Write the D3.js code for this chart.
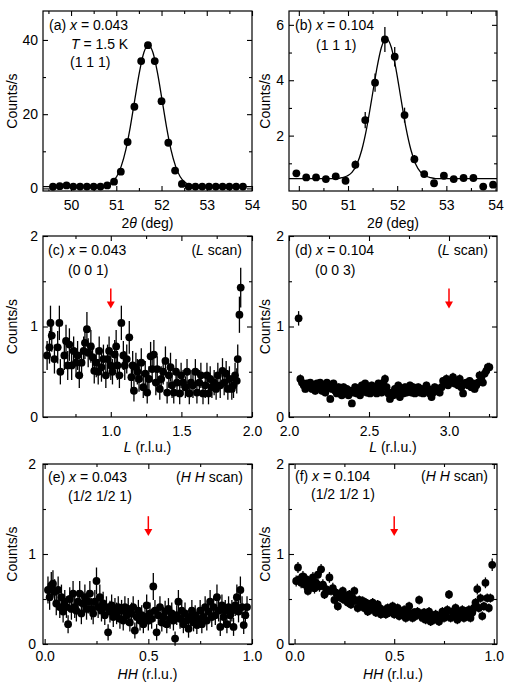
<html>
  <head>
    <meta charset="utf-8" />
    <script src="https://d3js.org/d3.v7.min.js"></script>
    <style>
      body { margin: 0; background: #fff; }
      text { font-family: "Liberation Sans", Arial, sans-serif; fill: #000; }
    </style>
  </head>
  <body>
    <div id="vis"></div>
    <script>
      // ---------------- data ----------------
      // (a) x = 0.043, (1 1 1) peak, 2theta scan
      var aTheta = [49.6, 49.75, 49.9, 50.05, 50.2, 50.35, 50.5, 50.65, 50.8, 50.95, 51.1, 51.25, 51.4, 51.55, 51.7,
        51.85, 52.0, 52.15, 52.3, 52.45, 52.6, 52.75, 52.9, 53.05, 53.2, 53.35, 53.5, 53.65, 53.8];
      var aCounts = [0.45, 0.6, 0.8, 0.5, 0.5, 0.5, 0.5, 0.5, 0.8, 1.8, 4.5, 12.5, 22, 34.3, 38.6,
        34.3, 23.5, 12.3, 4.8, 1.2, 0.5, 0.5, 0.5, 0.5, 0.5, 0.5, 0.5, 0.5, 0.5];
      var aFitTheta = [49.38, 50.5, 50.71, 50.81, 50.91, 51.01, 51.11, 51.21, 51.31, 51.41, 51.51, 51.61, 51.71,
        51.81, 51.91, 52.01, 52.11, 52.21, 52.31, 52.41, 52.51, 52.61, 52.71, 52.91, 54.0];
      var aFitCounts = [0.5, 0.5, 0.68, 1.0, 1.7, 3.2, 6.0, 10.4, 16.6, 24.0, 31.2, 36.6, 38.6,
        36.6, 31.2, 24.0, 16.6, 10.4, 6.0, 3.2, 1.7, 1.0, 0.68, 0.5, 0.5];

      // (b) x = 0.104, (1 1 1) peak
      var bTheta = [49.95, 50.15, 50.35, 50.55, 50.75, 50.95, 51.15, 51.35, 51.55, 51.75, 51.95,
        52.15, 52.35, 52.55, 52.75, 52.95, 53.15, 53.35, 53.55, 53.75, 53.95];
      var bCounts = [0.64, 0.49, 0.49, 0.43, 0.53, 0.37, 0.95, 2.56, 3.91, 5.47, 4.85,
        2.74, 1.15, 0.61, 0.28, 0.55, 0.43, 0.47, 0.47, 0.16, 0.23];
      var bErr = [0.08, 0.08, 0.08, 0.07, 0.08, 0.07, 0.15, 0.29, 0.33, 0.45, 0.35,
        0.27, 0.15, 0.08, 0.06, 0.08, 0.07, 0.07, 0.07, 0.05, 0.06];
      var bFitTheta = [49.8, 50.78, 50.88, 50.98, 51.08, 51.18, 51.28, 51.38, 51.48, 51.58, 51.68, 51.78,
        51.88, 51.98, 52.08, 52.18, 52.28, 52.38, 52.48, 52.58, 52.68, 52.78, 54.03];
      var bFitCounts = [0.45, 0.45, 0.48, 0.54, 0.67, 0.96, 1.48, 2.27, 3.3, 4.36, 5.19, 5.5,
        5.19, 4.36, 3.3, 2.27, 1.48, 0.96, 0.67, 0.54, 0.48, 0.45, 0.45];

      // (c) x = 0.043, L scan through (0 0 1)
      var cL = [0.549, 0.566, 0.573, 0.582, 0.601, 0.624, 0.636, 0.643, 0.671, 0.683,
        0.695, 0.707, 0.723, 0.737, 0.754, 0.765, 0.777, 0.793, 0.808, 0.817,
        0.831, 0.84, 0.859, 0.871, 0.883, 0.897, 0.911, 0.918, 0.934, 0.948,
        0.965, 0.977, 0.988, 1.0, 1.012, 1.028, 1.038, 1.047, 1.061, 1.075,
        1.089, 1.099, 1.113, 1.131, 1.146, 1.155, 1.164, 1.178, 1.188, 1.2,
        1.216, 1.23, 1.244, 1.258, 1.27, 1.282, 1.293, 1.305, 1.319, 1.329,
        1.347, 1.357, 1.371, 1.387, 1.399, 1.411, 1.423, 1.434, 1.446, 1.462,
        1.469, 1.488, 1.498, 1.512, 1.528, 1.54, 1.556, 1.568, 1.582, 1.599,
        1.61, 1.627, 1.638, 1.653, 1.669, 1.681, 1.692, 1.704, 1.716, 1.732,
        1.746, 1.758, 1.775, 1.791, 1.803, 1.817, 1.829, 1.84, 1.857, 1.869,
        1.88, 1.892, 1.899, 1.911, 1.92];
      var cCounts = [0.68, 0.77, 1.04, 0.9, 0.64, 0.77, 1.04, 0.5, 0.68, 0.84,
        0.57, 0.8, 0.57, 0.73, 0.6, 0.68, 0.46, 0.6, 0.73, 0.82,
        0.97, 0.71, 0.78, 0.66, 0.51, 0.6, 0.5, 0.73, 0.55, 0.64,
        0.46, 0.64, 0.73, 0.57, 0.5, 0.69, 0.78, 0.57, 0.46, 1.04,
        0.68, 0.57, 0.64, 0.88, 0.44, 0.57, 0.29, 0.55, 0.5, 0.42,
        0.6, 0.33, 0.48, 0.27, 0.42, 0.67, 0.53, 0.69, 0.38, 0.53,
        0.31, 0.42, 0.5, 0.62, 0.27, 0.46, 0.55, 0.35, 0.27, 0.5,
        0.38, 0.26, 0.46, 0.38, 0.33, 0.5, 0.26, 0.38, 0.35, 0.5,
        0.27, 0.38, 0.46, 0.26, 0.35, 0.46, 0.26, 0.42, 0.33, 0.38,
        0.31, 0.46, 0.35, 0.51, 0.38, 0.48, 0.31, 0.42, 0.31, 0.35,
        0.46, 0.4, 0.64, 1.13, 1.43];
      var cErr = [0.16, 0.18, 0.19, 0.18, 0.16, 0.18, 0.19, 0.14, 0.16, 0.18,
        0.16, 0.18, 0.16, 0.16, 0.16, 0.16, 0.14, 0.16, 0.16, 0.18,
        0.19, 0.16, 0.18, 0.16, 0.14, 0.16, 0.14, 0.16, 0.16, 0.16,
        0.14, 0.16, 0.16, 0.16, 0.14, 0.16, 0.18, 0.16, 0.14, 0.19,
        0.16, 0.16, 0.16, 0.18, 0.14, 0.16, 0.12, 0.16, 0.14, 0.14,
        0.16, 0.12, 0.14, 0.12, 0.14, 0.16, 0.14, 0.16, 0.14, 0.14,
        0.12, 0.14, 0.14, 0.16, 0.12, 0.14, 0.16, 0.14, 0.12, 0.14,
        0.14, 0.12, 0.14, 0.14, 0.12, 0.14, 0.12, 0.14, 0.14, 0.14,
        0.12, 0.14, 0.14, 0.12, 0.14, 0.14, 0.12, 0.14, 0.12, 0.14,
        0.12, 0.14, 0.14, 0.14, 0.14, 0.14, 0.12, 0.14, 0.12, 0.14,
        0.14, 0.14, 0.16, 0.2, 0.22];

      // (d) x = 0.104, L scan through (0 0 3)
      var dL = [2.06,
        2.071, 2.081, 2.092, 2.102, 2.112, 2.123, 2.133, 2.144, 2.154, 2.164,
        2.175, 2.185, 2.195, 2.206, 2.216, 2.227, 2.237, 2.247, 2.258, 2.268,
        2.278, 2.289, 2.299, 2.31, 2.32, 2.33, 2.341, 2.351, 2.361, 2.372,
        2.382, 2.393, 2.403, 2.413, 2.424, 2.434, 2.444, 2.455, 2.465, 2.476,
        2.486, 2.496, 2.507, 2.517, 2.527, 2.538, 2.548, 2.559, 2.569, 2.579,
        2.59, 2.6, 2.61, 2.621, 2.631, 2.642, 2.652, 2.662, 2.673, 2.683,
        2.693, 2.704, 2.714, 2.725, 2.735, 2.745, 2.756, 2.766, 2.776, 2.787,
        2.797, 2.808, 2.818, 2.828, 2.839, 2.849, 2.859, 2.87, 2.88, 2.891,
        2.901, 2.911, 2.922, 2.932, 2.942, 2.953, 2.963, 2.974, 2.984, 2.994,
        3.005, 3.015, 3.025, 3.036, 3.046, 3.057, 3.067, 3.077, 3.088, 3.098,
        3.108, 3.119, 3.129, 3.14, 3.15, 3.16, 3.171, 3.181, 3.191, 3.202,
        3.212, 3.223, 3.233, 3.243, 3.252];
      var dCounts = [1.09,
        0.42, 0.38, 0.35, 0.31, 0.37, 0.33, 0.38, 0.31, 0.35, 0.29,
        0.37, 0.33, 0.38, 0.29, 0.35, 0.27, 0.38, 0.33, 0.2, 0.31,
        0.37, 0.29, 0.26, 0.33, 0.29, 0.24, 0.33, 0.27, 0.31, 0.24,
        0.29, 0.15, 0.27, 0.33, 0.26, 0.31, 0.24, 0.35, 0.29, 0.37,
        0.27, 0.33, 0.26, 0.35, 0.29, 0.33, 0.26, 0.37, 0.31, 0.27,
        0.38, 0.42, 0.33, 0.26, 0.2, 0.27, 0.24, 0.31, 0.27, 0.35,
        0.22, 0.29, 0.26, 0.33, 0.27, 0.31, 0.35, 0.27, 0.33, 0.26,
        0.29, 0.33, 0.27, 0.31, 0.26, 0.29, 0.35, 0.31, 0.26, 0.22,
        0.27, 0.33, 0.29, 0.31, 0.27, 0.33, 0.4, 0.37, 0.42, 0.35,
        0.4, 0.38, 0.44, 0.37, 0.4, 0.35, 0.42, 0.33, 0.26, 0.37,
        0.38, 0.35, 0.4, 0.33, 0.37, 0.31, 0.35, 0.38, 0.46, 0.42,
        0.38, 0.48, 0.51, 0.55, 0.55];
      var dErr = [0.08,
        0.05, 0.04, 0.04, 0.04, 0.04, 0.04, 0.04, 0.04, 0.04, 0.04,
        0.04, 0.04, 0.04, 0.04, 0.04, 0.04, 0.04, 0.04, 0.04, 0.04,
        0.04, 0.04, 0.04, 0.04, 0.04, 0.04, 0.04, 0.04, 0.04, 0.04,
        0.04, 0.04, 0.04, 0.04, 0.04, 0.04, 0.04, 0.04, 0.04, 0.04,
        0.04, 0.04, 0.04, 0.04, 0.04, 0.04, 0.04, 0.04, 0.04, 0.04,
        0.04, 0.05, 0.04, 0.04, 0.04, 0.04, 0.04, 0.04, 0.04, 0.04,
        0.04, 0.04, 0.04, 0.04, 0.04, 0.04, 0.04, 0.04, 0.04, 0.04,
        0.04, 0.04, 0.04, 0.04, 0.04, 0.04, 0.04, 0.04, 0.04, 0.04,
        0.04, 0.04, 0.04, 0.04, 0.04, 0.04, 0.04, 0.04, 0.05, 0.04,
        0.04, 0.04, 0.05, 0.04, 0.04, 0.04, 0.05, 0.04, 0.04, 0.04,
        0.04, 0.04, 0.04, 0.04, 0.04, 0.04, 0.04, 0.04, 0.05, 0.05,
        0.04, 0.05, 0.05, 0.05, 0.05];

      // (e) x = 0.043, H H scan through (1/2 1/2 1)
      var eHH = [0.016, 0.024, 0.032, 0.04, 0.048, 0.056, 0.065, 0.073, 0.081, 0.089,
        0.097, 0.105, 0.113, 0.121, 0.129, 0.137, 0.145, 0.153, 0.161, 0.169,
        0.177, 0.185, 0.194, 0.202, 0.21, 0.218, 0.226, 0.234, 0.242, 0.25,
        0.258, 0.266, 0.274, 0.282, 0.29, 0.298, 0.306, 0.315, 0.323, 0.331,
        0.339, 0.347, 0.355, 0.363, 0.371, 0.379, 0.387, 0.395, 0.403, 0.411,
        0.419, 0.427, 0.435, 0.444, 0.452, 0.46, 0.468, 0.476, 0.484, 0.492,
        0.5, 0.508, 0.516, 0.524, 0.532, 0.54, 0.548, 0.556, 0.565, 0.573,
        0.581, 0.589, 0.597, 0.605, 0.613, 0.621, 0.629, 0.637, 0.645, 0.653,
        0.661, 0.669, 0.677, 0.685, 0.694, 0.702, 0.71, 0.718, 0.726, 0.734,
        0.742, 0.75, 0.758, 0.766, 0.774, 0.782, 0.79, 0.798, 0.806, 0.815,
        0.823, 0.831, 0.839, 0.847, 0.855, 0.863, 0.871, 0.879, 0.887, 0.895,
        0.903, 0.911, 0.919, 0.927, 0.935, 0.944, 0.952, 0.96, 0.968, 0.976];
      var eCounts = [0.6, 0.52, 0.65, 0.67, 0.58, 0.45, 0.6, 0.41, 0.52, 0.36,
        0.47, 0.41, 0.22, 0.5, 0.39, 0.56, 0.41, 0.37, 0.47, 0.56,
        0.34, 0.45, 0.52, 0.39, 0.47, 0.56, 0.39, 0.34, 0.47, 0.7,
        0.41, 0.52, 0.37, 0.45, 0.32, 0.41, 0.13, 0.36, 0.43, 0.3,
        0.39, 0.34, 0.41, 0.28, 0.37, 0.26, 0.41, 0.32, 0.39, 0.24,
        0.34, 0.41, 0.15, 0.3, 0.37, 0.26, 0.32, 0.22, 0.3, 0.43,
        0.26, 0.34, 0.28, 0.64, 0.37, 0.13, 0.32, 0.41, 0.24, 0.3,
        0.36, 0.22, 0.39, 0.28, 0.34, 0.26, 0.06, 0.32, 0.47, 0.28,
        0.37, 0.22, 0.34, 0.26, 0.17, 0.3, 0.37, 0.24, 0.32, 0.21,
        0.28, 0.37, 0.22, 0.3, 0.41, 0.26, 0.36, 0.47, 0.3, 0.41,
        0.32, 0.52, 0.37, 0.19, 0.43, 0.3, 0.37, 0.22, 0.41, 0.32,
        0.37, 0.19, 0.43, 0.52, 0.36, 0.6, 0.41, 0.21, 0.32, 0.41];
      var eErr = [0.15, 0.14, 0.15, 0.15, 0.14, 0.13, 0.15, 0.12, 0.14, 0.12,
        0.13, 0.12, 0.1, 0.13, 0.12, 0.14, 0.12, 0.12, 0.13, 0.14,
        0.12, 0.13, 0.14, 0.12, 0.13, 0.14, 0.12, 0.12, 0.13, 0.15,
        0.12, 0.14, 0.12, 0.13, 0.11, 0.12, 0.09, 0.12, 0.12, 0.11,
        0.12, 0.12, 0.12, 0.11, 0.12, 0.11, 0.12, 0.11, 0.12, 0.1,
        0.12, 0.12, 0.09, 0.11, 0.12, 0.11, 0.11, 0.1, 0.11, 0.12,
        0.11, 0.12, 0.11, 0.15, 0.12, 0.09, 0.11, 0.12, 0.1, 0.11,
        0.12, 0.1, 0.12, 0.11, 0.12, 0.11, 0.08, 0.11, 0.13, 0.11,
        0.12, 0.1, 0.12, 0.11, 0.1, 0.11, 0.12, 0.1, 0.11, 0.1,
        0.11, 0.12, 0.1, 0.11, 0.12, 0.11, 0.12, 0.13, 0.11, 0.12,
        0.11, 0.14, 0.12, 0.1, 0.12, 0.11, 0.12, 0.1, 0.12, 0.11,
        0.12, 0.1, 0.12, 0.14, 0.12, 0.15, 0.12, 0.1, 0.11, 0.12];

      // (f) x = 0.104, H H scan through (1/2 1/2 1)
      var fHH = [0.008, 0.017, 0.025, 0.033, 0.042, 0.05, 0.058, 0.067, 0.075, 0.083,
        0.092, 0.1, 0.108, 0.117, 0.125, 0.133, 0.142, 0.15, 0.158, 0.167,
        0.175, 0.183, 0.192, 0.2, 0.208, 0.217, 0.225, 0.233, 0.242, 0.25,
        0.258, 0.267, 0.275, 0.283, 0.292, 0.3, 0.308, 0.317, 0.325, 0.333,
        0.342, 0.35, 0.358, 0.367, 0.375, 0.383, 0.392, 0.4, 0.408, 0.417,
        0.425, 0.433, 0.442, 0.45, 0.458, 0.467, 0.475, 0.483, 0.492, 0.5,
        0.508, 0.517, 0.525, 0.533, 0.542, 0.55, 0.558, 0.567, 0.575, 0.583,
        0.592, 0.6, 0.608, 0.617, 0.625, 0.633, 0.642, 0.65, 0.658, 0.667,
        0.675, 0.683, 0.692, 0.7, 0.708, 0.717, 0.725, 0.733, 0.742, 0.75,
        0.758, 0.767, 0.775, 0.783, 0.792, 0.8, 0.808, 0.817, 0.825, 0.833,
        0.842, 0.85, 0.858, 0.867, 0.875, 0.883, 0.892, 0.9, 0.908, 0.917,
        0.925, 0.933, 0.942, 0.95, 0.958, 0.967, 0.975, 0.983, 0.992];
      var fCounts = [0.7, 0.85, 0.72, 0.68, 0.75, 0.66, 0.72, 0.59, 0.68, 0.64,
        0.74, 0.62, 0.68, 0.77, 0.64, 0.83, 0.66, 0.55, 0.61, 0.59,
        0.74, 0.59, 0.62, 0.49, 0.57, 0.42, 0.55, 0.51, 0.59, 0.49,
        0.53, 0.46, 0.55, 0.44, 0.51, 0.59, 0.48, 0.4, 0.49, 0.44,
        0.48, 0.4, 0.46, 0.36, 0.44, 0.38, 0.46, 0.4, 0.35, 0.44,
        0.4, 0.33, 0.38, 0.36, 0.33, 0.4, 0.35, 0.38, 0.42, 0.33,
        0.36, 0.4, 0.31, 0.36, 0.33, 0.38, 0.29, 0.35, 0.42, 0.33,
        0.29, 0.35, 0.31, 0.36, 0.49, 0.33, 0.29, 0.35, 0.27, 0.31,
        0.36, 0.25, 0.31, 0.27, 0.33, 0.29, 0.25, 0.31, 0.36, 0.29,
        0.33, 0.38, 0.55, 0.29, 0.36, 0.31, 0.4, 0.27, 0.35, 0.31,
        0.38, 0.29, 0.36, 0.31, 0.38, 0.29, 0.35, 0.4, 0.46, 0.61,
        0.4, 0.51, 0.31, 0.42, 0.68, 0.51, 0.4, 0.51, 0.88];
      var fErr = [0.06, 0.06, 0.06, 0.06, 0.06, 0.06, 0.06, 0.05, 0.06, 0.06,
        0.06, 0.06, 0.06, 0.06, 0.06, 0.06, 0.06, 0.05, 0.06, 0.05,
        0.06, 0.05, 0.06, 0.05, 0.05, 0.05, 0.05, 0.05, 0.05, 0.05,
        0.05, 0.05, 0.05, 0.05, 0.05, 0.05, 0.05, 0.05, 0.05, 0.05,
        0.05, 0.05, 0.05, 0.05, 0.05, 0.05, 0.05, 0.05, 0.05, 0.05,
        0.05, 0.05, 0.05, 0.05, 0.05, 0.05, 0.05, 0.05, 0.05, 0.05,
        0.05, 0.05, 0.05, 0.05, 0.05, 0.05, 0.05, 0.05, 0.05, 0.05,
        0.05, 0.05, 0.05, 0.05, 0.05, 0.05, 0.05, 0.05, 0.05, 0.05,
        0.05, 0.05, 0.05, 0.05, 0.05, 0.05, 0.05, 0.05, 0.05, 0.05,
        0.05, 0.05, 0.05, 0.05, 0.05, 0.05, 0.05, 0.05, 0.05, 0.05,
        0.05, 0.05, 0.05, 0.05, 0.05, 0.05, 0.05, 0.05, 0.05, 0.06,
        0.05, 0.05, 0.05, 0.05, 0.06, 0.05, 0.05, 0.05, 0.07];

      // tick values and labels
      var thetaTicks = [50, 51, 52, 53, 54];
      var thetaMinor = [49.5, 50.5, 51.5, 52.5, 53.5];
      var aCountTicks = [0, 20, 40];
      var aCountMinor = [10, 30];
      var bCountTicks = [2, 4, 6];
      var bCountMinor = [1, 3, 5];
      var cLTicks = [1.0, 1.5, 2.0];
      var cLMinor = [0.75, 1.25, 1.75];
      var dLTicks = [2.0, 2.5, 3.0];
      var dLMinor = [2.25, 2.75, 3.25];
      var hhTicks = [0.0, 0.5, 1.0];
      var hhMinor = [0.25, 0.75];
      var countTicks = [0, 1, 2];
      var countMinor = [0.5, 1.5];

      // red arrows marking the expected peak positions
      var arrowAt = { c: 1.0, d: 3.0, e: 0.5, f: 0.5 };
      var arrowFrom = 1.42, arrowTo = 1.2;

      // ---------------- drawing ----------------
      var svg = d3
        .select("#vis")
        .append("svg")
        .attr("width", 509)
        .attr("height", 684);

      var FONT = '"Liberation Sans", Arial, sans-serif';

      function richText(g, x, y, parts, anchor) {
        var t = g
          .append("text")
          .attr("x", x)
          .attr("y", y)
          .attr("font-size", 14)
          .attr("text-anchor", anchor || "start");
        parts.forEach(function (p) {
          t.append("tspan")
            .attr("font-style", p[1] ? "italic" : "normal")
            .text(p[0]);
        });
        return t;
      }

      function panel(o) {
        var x = d3.scaleLinear().domain(o.xDomain).range([o.left, o.right]);
        var y = d3.scaleLinear().domain(o.yDomain).range([o.bottom, o.top]);
        var g = svg.append("g");

        function styleAxis(sel) {
          sel.select(".domain").remove();
          sel.selectAll("line").attr("stroke", "#000").attr("stroke-width", 1.1);
          sel.selectAll("text").attr("font-size", 14).attr("font-family", FONT);
        }

        // bottom (labelled) + top mirror
        g.append("g")
          .attr("transform", "translate(0," + o.bottom + ")")
          .call(d3.axisBottom(x).tickValues(o.xTicks).tickSize(-5).tickPadding(o.xPad).tickFormat(o.xFormat))
          .call(styleAxis);
        g.append("g")
          .attr("transform", "translate(0," + o.bottom + ")")
          .call(d3.axisBottom(x).tickValues(o.xMinor).tickSize(-3).tickFormat(""))
          .call(styleAxis);
        g.append("g")
          .attr("transform", "translate(0," + o.top + ")")
          .call(d3.axisTop(x).tickValues(o.xTicks).tickSize(-5).tickFormat(""))
          .call(styleAxis);
        g.append("g")
          .attr("transform", "translate(0," + o.top + ")")
          .call(d3.axisTop(x).tickValues(o.xMinor).tickSize(-3).tickFormat(""))
          .call(styleAxis);

        // left (labelled) + right mirror
        g.append("g")
          .attr("transform", "translate(" + o.left + ",0)")
          .call(d3.axisLeft(y).tickValues(o.yTicks).tickSize(-5).tickPadding(o.yPad || 5).tickFormat(d3.format("d")))
          .call(styleAxis);
        g.append("g")
          .attr("transform", "translate(" + o.left + ",0)")
          .call(d3.axisLeft(y).tickValues(o.yMinor).tickSize(-3).tickFormat(""))
          .call(styleAxis);
        g.append("g")
          .attr("transform", "translate(" + o.right + ",0)")
          .call(d3.axisRight(y).tickValues(o.yTicks).tickSize(-5).tickFormat(""))
          .call(styleAxis);
        g.append("g")
          .attr("transform", "translate(" + o.right + ",0)")
          .call(d3.axisRight(y).tickValues(o.yMinor).tickSize(-3).tickFormat(""))
          .call(styleAxis);

        // frame
        g.append("rect")
          .attr("x", o.left)
          .attr("y", o.top)
          .attr("width", o.right - o.left)
          .attr("height", o.bottom - o.top)
          .attr("fill", "none")
          .attr("stroke", "#000")
          .attr("stroke-width", 1.2);

        // fit curve
        if (o.fitX) {
          var fit = o.fitX.map(function (v, i) { return [v, o.fitY[i]]; });
          g.append("path")
            .datum(fit)
            .attr("fill", "none")
            .attr("stroke", "#000")
            .attr("stroke-width", 1.3)
            .attr("d", d3.line()
              .x(function (d) { return x(d[0]); })
              .y(function (d) { return y(d[1]); })
              .curve(d3.curveMonotoneX));
        }

        var pts = o.px.map(function (v, i) {
          return { x: v, y: o.py[i], e: o.pe ? o.pe[i] : 0 };
        });

        // error bars
        g.selectAll(".err")
          .data(pts.filter(function (d) { return d.e > 0; }))
          .enter()
          .append("line")
          .attr("x1", function (d) { return x(d.x); })
          .attr("x2", function (d) { return x(d.x); })
          .attr("y1", function (d) { return y(d.y - d.e); })
          .attr("y2", function (d) { return y(d.y + d.e); })
          .attr("stroke", "#000")
          .attr("stroke-width", 1.3);

        // markers
        g.selectAll(".pt")
          .data(pts)
          .enter()
          .append("circle")
          .attr("cx", function (d) { return x(d.x); })
          .attr("cy", function (d) { return y(d.y); })
          .attr("r", 3.9)
          .attr("fill", "#000");

        // red arrow
        if (o.arrow !== undefined) {
          var ax = x(o.arrow), y0 = y(arrowFrom), y1 = y(arrowTo);
          g.append("line")
            .attr("x1", ax).attr("x2", ax)
            .attr("y1", y0).attr("y2", y1 - 5)
            .attr("stroke", "#ff0000")
            .attr("stroke-width", 1.5);
          g.append("path")
            .attr("d", "M" + (ax - 4) + "," + (y1 - 7) + "L" + (ax + 4) + "," + (y1 - 7) + "L" + ax + "," + y1 + "Z")
            .attr("fill", "#ff0000");
        }

        // axis titles
        richText(g, (o.left + o.right) / 2, o.titleY, o.xTitle, "middle");
        richText(g, 0, 0, [["Counts/s", false]], "middle")
          .attr("transform", "translate(" + o.yTitleX + "," + (o.top + o.bottom) / 2 + ") rotate(-90)");

        // annotations
        o.notes.forEach(function (n) {
          richText(g, n.x, n.y, n.parts, n.anchor);
        });
      }

      var fmt1 = d3.format(".1f");
      var fmt0 = d3.format("d");

      panel({
        left: 43, right: 252, top: 11, bottom: 191,
        xDomain: [49.38, 54.0], yDomain: [-0.7, 47.8],
        xTicks: thetaTicks, xMinor: thetaMinor, xFormat: fmt0, xPad: 9,
        yTicks: aCountTicks, yMinor: aCountMinor,
        px: aTheta, py: aCounts, fitX: aFitTheta, fitY: aFitCounts,
        titleY: 228, yTitleX: 17,
        xTitle: [["2", false], ["\u03b8", true], [" (deg)", false]],
        notes: [
          { x: 49, y: 30, parts: [["(a) ", false], ["x", true], [" = 0.043", false]] },
          { x: 71, y: 49, parts: [["T", true], [" = 1.5 K", false]] },
          { x: 70, y: 67, parts: [["(1 1 1)", false]] }
        ]
      });

      panel({
        left: 289, right: 497, top: 11, bottom: 191,
        xDomain: [49.8, 54.03], yDomain: [0, 6.5],
        xTicks: thetaTicks, xMinor: thetaMinor.slice(1), xFormat: fmt0, xPad: 9,
        yTicks: bCountTicks, yMinor: bCountMinor,
        px: bTheta, py: bCounts, pe: bErr, fitX: bFitTheta, fitY: bFitCounts,
        titleY: 228, yTitleX: 270,
        xTitle: [["2", false], ["\u03b8", true], [" (deg)", false]],
        notes: [
          { x: 295, y: 30, parts: [["(b) ", false], ["x", true], [" = 0.104", false]] },
          { x: 316, y: 50, parts: [["(1 1 1)", false]] }
        ]
      });

      panel({
        left: 43, right: 252, top: 236, bottom: 417,
        xDomain: [0.52, 2.0], yDomain: [0, 2],
        xTicks: cLTicks, xMinor: cLMinor, xFormat: fmt1, xPad: 9,
        yTicks: countTicks, yMinor: countMinor,
        px: cL, py: cCounts, pe: cErr, arrow: arrowAt.c,
        titleY: 452, yTitleX: 17,
        xTitle: [["L", true], [" (r.l.u.)", false]],
        notes: [
          { x: 48, y: 255, parts: [["(c) ", false], ["x", true], [" = 0.043", false]] },
          { x: 68, y: 275, parts: [["(0 0 1)", false]] },
          { x: 242, y: 255, anchor: "end", parts: [["(", false], ["L", true], [" scan)", false]] }
        ]
      });

      panel({
        left: 289, right: 497, top: 236, bottom: 417,
        xDomain: [2.0, 3.3], yDomain: [0, 2],
        xTicks: dLTicks, xMinor: dLMinor, xFormat: fmt1, xPad: 9,
        yTicks: countTicks, yMinor: countMinor,
        px: dL, py: dCounts, pe: dErr, arrow: arrowAt.d,
        titleY: 452, yTitleX: 270,
        xTitle: [["L", true], [" (r.l.u.)", false]],
        notes: [
          { x: 295, y: 255, parts: [["(d) ", false], ["x", true], [" = 0.104", false]] },
          { x: 315, y: 275, parts: [["(0 0 3)", false]] },
          { x: 488, y: 255, anchor: "end", parts: [["(", false], ["L", true], [" scan)", false]] }
        ]
      });

      panel({
        left: 43, right: 252, top: 464, bottom: 644,
        xDomain: [-0.008, 1.0], yDomain: [0, 2],
        xTicks: hhTicks, xMinor: hhMinor, xFormat: fmt1, xPad: 7, yPad: 7,
        yTicks: countTicks, yMinor: countMinor,
        px: eHH, py: eCounts, pe: eErr, arrow: arrowAt.e,
        titleY: 679, yTitleX: 17,
        xTitle: [["HH", true], [" (r.l.u.)", false]],
        notes: [
          { x: 48, y: 482, parts: [["(e) ", false], ["x", true], [" = 0.043", false]] },
          { x: 68, y: 501, parts: [["(1/2 1/2 1)", false]] },
          { x: 243, y: 482, anchor: "end", parts: [["(", false], ["H H", true], [" scan)", false]] }
        ]
      });

      panel({
        left: 289, right: 497, top: 464, bottom: 644,
        xDomain: [-0.028, 1.016], yDomain: [0, 2],
        xTicks: hhTicks, xMinor: hhMinor, xFormat: fmt1, xPad: 7,
        yTicks: countTicks, yMinor: countMinor,
        px: fHH, py: fCounts, pe: fErr, arrow: arrowAt.f,
        titleY: 679, yTitleX: 270,
        xTitle: [["HH", true], [" (r.l.u.)", false]],
        notes: [
          { x: 295, y: 481, parts: [["(f) ", false], ["x", true], [" = 0.104", false]] },
          { x: 311, y: 499, parts: [["(1/2 1/2 1)", false]] },
          { x: 488, y: 481, anchor: "end", parts: [["(", false], ["H H", true], [" scan)", false]] }
        ]
      });
    </script>
  </body>
</html>
